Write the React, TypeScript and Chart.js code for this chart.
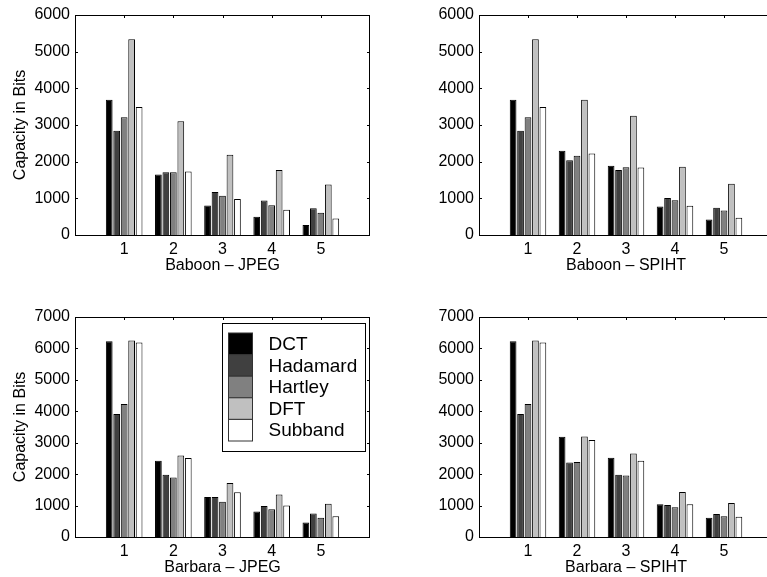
import React, { useEffect, useRef } from 'react';
import { Chart, registerables } from 'chart.js';

Chart.register(...registerables);

const methods = ['DCT', 'Hadamard', 'Hartley', 'DFT', 'Subband'];
const levels = ['1', '2', '3', '4', '5'];
const fills = ['#000000', '#404040', '#808080', '#c0c0c0', '#ffffff'];

// Capacity in bits; rows follow `methods`, columns follow `levels`
const baboonJpeg = [
  [3690, 1650, 805, 500, 270],
  [2840, 1710, 1170, 940, 730],
  [3210, 1710, 1070, 810, 610],
  [5340, 3100, 2190, 1770, 1380],
  [3490, 1730, 980, 690, 450],
];
const baboonSpiht = [
  [3690, 2300, 1890, 780, 425],
  [2840, 2040, 1770, 1010, 740],
  [3210, 2160, 1850, 950, 670],
  [5340, 3690, 3250, 1860, 1400],
  [3490, 2220, 1840, 800, 470],
];
const barbaraJpeg = [
  [6230, 2430, 1270, 810, 465],
  [3910, 1980, 1270, 990, 750],
  [4230, 1890, 1120, 880, 610],
  [6250, 2590, 1720, 1350, 1060],
  [6190, 2510, 1420, 1000, 660],
];
const barbaraSpiht = [
  [6230, 3190, 2520, 1040, 610],
  [3910, 2370, 1980, 1020, 730],
  [4230, 2390, 1960, 950, 660],
  [6250, 3200, 2660, 1430, 1080],
  [6190, 3090, 2430, 1040, 645],
];

const FONT = "'Liberation Sans', Arial, Helvetica, sans-serif";
const TICK_LEN = 3;

// Boxed axes with inward tick marks on all four sides
const framePlugin = {
  id: 'frame',
  beforeDatasetsDraw(chart: any) {
    const { ctx, chartArea: a, scales } = chart;
    ctx.save();
    ctx.strokeStyle = '#000';
    ctx.lineWidth = 1;
    ctx.beginPath();
    scales.y.ticks.forEach((t: any) => {
      const y = Math.round(scales.y.getPixelForValue(t.value)) + 0.5;
      ctx.moveTo(a.left, y);
      ctx.lineTo(a.left + TICK_LEN, y);
      ctx.moveTo(a.right, y);
      ctx.lineTo(a.right - TICK_LEN, y);
    });
    const labels = chart.data.labels as string[];
    labels.forEach((l, i) => {
      if (!l) return;
      const x = Math.round(scales.x.getPixelForTick(i)) + 0.5;
      ctx.moveTo(x, a.top);
      ctx.lineTo(x, a.top + TICK_LEN);
      ctx.moveTo(x, a.bottom);
      ctx.lineTo(x, a.bottom - TICK_LEN);
    });
    ctx.stroke();
    ctx.restore();
  },
  afterDatasetsDraw(chart: any) {
    const { ctx, chartArea: a } = chart;
    ctx.save();
    ctx.strokeStyle = '#000';
    ctx.lineWidth = 1;
    ctx.strokeRect(a.left + 0.5, a.top + 0.5, a.right - a.left - 1, a.bottom - a.top);
    ctx.restore();
  },
};

// Boxed legend in the upper right of the plot area
const boxLegendPlugin = {
  id: 'boxLegend',
  afterDraw(chart: any) {
    const { ctx, chartArea: a } = chart;
    const w = 143;
    const h = 128;
    const x0 = Math.round(a.right - 5 - w) + 0.5;
    const y0 = Math.round(a.top + 6) + 0.5;
    ctx.save();
    ctx.fillStyle = '#fff';
    ctx.fillRect(x0, y0, w, h);
    ctx.strokeStyle = '#000';
    ctx.lineWidth = 1;
    ctx.strokeRect(x0, y0, w, h);
    const rowH = 21.6;
    const sx = x0 + 6;
    const sy = y0 + 9.5;
    ctx.font = `19px ${FONT}`;
    ctx.textBaseline = 'middle';
    ctx.textAlign = 'left';
    chart.data.datasets.forEach((ds: any, i: number) => {
      const top = sy + i * rowH;
      ctx.fillStyle = ds.backgroundColor;
      ctx.fillRect(sx, top, 24, rowH);
      ctx.strokeStyle = '#333';
      ctx.strokeRect(sx, top, 24, rowH);
      ctx.fillStyle = '#000';
      ctx.fillText(ds.label, x0 + 46, top + rowH / 2 + 1);
    });
    ctx.restore();
  },
};

type PanelSpec = {
  title: string;
  values: number[][];
  yMax: number;
  yTitle: boolean;
  legend: boolean;
  left: number;
  top: number;
  width: number;
  height: number;
  padTop: number;
  padRight: number;
  padBottom: number;
  yAxisWidth: number;
};

const panels: PanelSpec[] = [
  { title: 'Baboon \u2013 JPEG', values: baboonJpeg, yMax: 6000, yTitle: true, legend: false,
    left: 0, top: 0, width: 380, height: 290, padTop: 15, padRight: 10, padBottom: 15, yAxisWidth: 75 },
  { title: 'Baboon \u2013 SPIHT', values: baboonSpiht, yMax: 6000, yTitle: false, legend: false,
    left: 380, top: 0, width: 400, height: 290, padTop: 15, padRight: 7, padBottom: 15, yAxisWidth: 99 },
  { title: 'Barbara \u2013 JPEG', values: barbaraJpeg, yMax: 7000, yTitle: true, legend: true,
    left: 0, top: 290, width: 380, height: 287, padTop: 27, padRight: 10, padBottom: 0, yAxisWidth: 75 },
  { title: 'Barbara \u2013 SPIHT', values: barbaraSpiht, yMax: 7000, yTitle: false, legend: false,
    left: 380, top: 290, width: 400, height: 287, padTop: 27, padRight: 7, padBottom: 0, yAxisWidth: 99 },
];

function Panel({ spec }: { spec: PanelSpec }) {
  const ref = useRef<HTMLCanvasElement>(null);

  useEffect(() => {
    if (!ref.current) return;
    const font = { family: FONT, size: 16 };
    const chart = new Chart(ref.current, {
      type: 'bar',
      data: {
        labels: ['', ...levels, ''],
        datasets: methods.map((m, i) => ({
          label: m,
          data: [null, ...spec.values[i], null],
          backgroundColor: fills[i],
          borderColor: '#000',
          borderWidth: 1,
          categoryPercentage: 0.76,
          barPercentage: 0.9,
        })),
      },
      options: {
        responsive: false,
        animation: false,
        devicePixelRatio: 1,
        layout: { padding: { top: spec.padTop, right: spec.padRight, bottom: spec.padBottom, left: 0 } },
        plugins: {
          legend: { display: false },
          tooltip: { enabled: false },
        },
        scales: {
          x: {
            type: 'category',
            offset: false,
            grid: { display: false, drawTicks: false },
            border: { display: false },
            ticks: { autoSkip: false, maxRotation: 0, padding: 5, color: '#000', font },
            title: { display: true, text: spec.title, color: '#000', font, padding: { top: 0, bottom: 0 } },
            afterFit: (s: any) => { s.height = 40; },
          },
          y: {
            min: 0,
            max: spec.yMax,
            grid: { display: false, drawTicks: false },
            border: { display: false },
            ticks: {
              stepSize: 1000,
              padding: 5,
              color: '#000',
              font,
              callback: (v: number | string) => String(v),
            },
            title: {
              display: spec.yTitle,
              text: 'Capacity in Bits',
              color: '#000',
              font,
              padding: { top: 11, bottom: 0 },
            },
            afterFit: (s: any) => { s.width = spec.yAxisWidth; },
          },
        },
      } as any,
      plugins: spec.legend ? [framePlugin, boxLegendPlugin] : [framePlugin],
    });
    return () => chart.destroy();
  }, [spec]);

  return (
    <canvas
      ref={ref}
      width={spec.width}
      height={spec.height}
      style={{ position: 'absolute', left: spec.left, top: spec.top, width: spec.width, height: spec.height }}
    />
  );
}

export default function App() {
  return (
    <div
      style={{
        position: 'fixed',
        left: 0,
        top: 0,
        width: 767,
        height: 577,
        overflow: 'hidden',
        background: '#fff',
      }}
    >
      {panels.map((p) => (
        <Panel key={p.title} spec={p} />
      ))}
    </div>
  );
}
